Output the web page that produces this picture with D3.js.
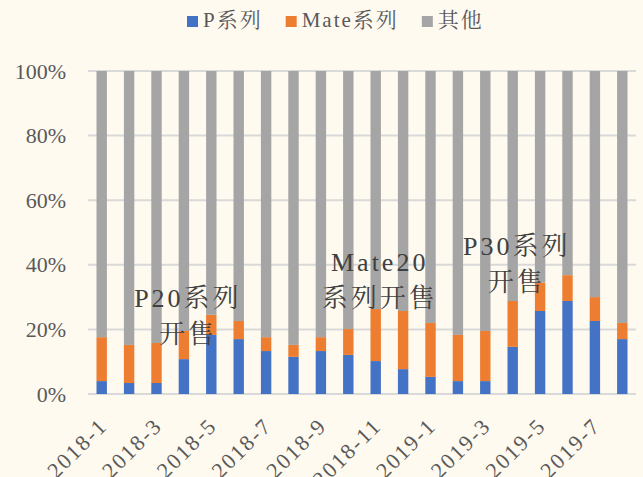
<!DOCTYPE html>
<html>
<head>
<meta charset="utf-8">
<script src="https://cdn.jsdelivr.net/npm/d3@7"></script>
<style>
	body { margin: 0; background: #fffaf0; }
	svg { display: block; }
</style>
</head>
<body>
<div id="chart"></div>
<script>
// data (share of sales, %)
const months = [
	"2018-1", "2018-2", "2018-3", "2018-4", "2018-5", "2018-6", "2018-7",
	"2018-8", "2018-9", "2018-10", "2018-11", "2018-12", "2019-1", "2019-2",
	"2019-3", "2019-4", "2019-5", "2019-6", "2019-7", "2019-8"
];
const pSeries = [4.0, 3.4, 3.4, 10.8, 18.3, 17.0, 13.3, 11.5, 13.3, 12.1,
	10.2, 7.7, 5.3, 4.0, 4.0, 14.6, 25.7, 28.8, 22.6, 17.0];
const mateSeries = [13.6, 11.8, 12.4, 8.7, 6.2, 5.6, 4.3, 3.7, 4.3, 8.0,
	16.1, 18.0, 16.7, 14.3, 15.5, 14.2, 8.8, 8.0, 7.4, 5.0];
const otherSeries = months.map((m, i) => 100 - pSeries[i] - mateSeries[i]);

const seriesNames = ["P系列", "Mate系列", "其他"];
const seriesKeys = ["p", "mate", "other"];
const colors = ["#4472c4", "#ed7d31", "#a5a5a5"];
const yTicks = [0, 20, 40, 60, 80, 100];

const notes = [
	{ month: "2018-4", value: 27, lines: ["P20系列", "开售"] },
	{ month: "2018-11", value: 38, lines: ["Mate20", "系列开售"] },
	{ month: "2019-4", value: 43, lines: ["P30系列", "开售"] }
];

const fontStack = "Liberation Serif, Noto Serif CJK SC, serif";

// set up svg
const width = 643;
const height = 477;
const margin = { top: 71, right: 7, bottom: 83, left: 88 };

const svg = d3.select("#chart")
	.append("svg")
	.attr("width", width)
	.attr("height", height)
	.attr("font-family", fontStack);

svg.append("rect")
	.attr("width", width)
	.attr("height", height)
	.attr("fill", "#fffaf0");

// scales
const xScale = d3.scaleBand()
	.domain(months)
	.range([margin.left, width - margin.right])
	.paddingInner(0.62)
	.paddingOuter(0.31);

const yScale = d3.scaleLinear()
	.domain([0, 100])
	.range([height - margin.bottom, margin.top]);

const colorScale = d3.scaleOrdinal().domain(seriesKeys).range(colors);

// grid
svg.append("g")
	.selectAll("line")
	.data(yTicks)
	.join("line")
	.attr("x1", margin.left)
	.attr("x2", width - margin.right)
	.attr("y1", d => yScale(d))
	.attr("y2", d => yScale(d))
	.attr("stroke", "#d9d9d9")
	.attr("stroke-width", 2);

// stacked bars
const table = months.map((m, i) => ({
	month: m, p: pSeries[i], mate: mateSeries[i], other: otherSeries[i]
}));
const stacked = d3.stack().keys(seriesKeys)(table);

svg.append("g")
	.selectAll("g")
	.data(stacked)
	.join("g")
	.attr("fill", d => colorScale(d.key))
	.selectAll("rect")
	.data(d => d)
	.join("rect")
	.attr("x", d => xScale(d.data.month))
	.attr("width", xScale.bandwidth())
	.attr("y", d => yScale(d[1]))
	.attr("height", d => yScale(d[0]) - yScale(d[1]));

// axes
const yAxis = d3.axisLeft(yScale)
	.tickValues(yTicks)
	.tickSize(0)
	.tickPadding(22)
	.tickFormat(d => d + "%");

svg.append("g")
	.attr("transform", `translate(${margin.left},0)`)
	.call(yAxis)
	.call(g => g.select(".domain").remove())
	.attr("font-family", fontStack)
	.selectAll("text")
	.attr("font-family", fontStack)
	.attr("font-size", 22)
	.attr("fill", "#595959");

const xAxis = d3.axisBottom(xScale)
	.tickValues(months.filter((m, i) => i % 2 === 0))
	.tickSize(0);

svg.append("g")
	.attr("transform", `translate(0,${height - margin.bottom})`)
	.call(xAxis)
	.call(g => g.select(".domain").remove())
	.attr("font-family", fontStack)
	.selectAll("text")
	.attr("font-family", fontStack)
	.attr("font-size", 22)
	.attr("letter-spacing", 2)
	.attr("fill", "#595959")
	.attr("text-anchor", "end")
	.attr("dy", null)
	.attr("y", 0)
	.attr("transform", "translate(7,33) rotate(-45)");

// annotations
const noteG = svg.append("g")
	.selectAll("text")
	.data(notes)
	.join("text")
	.attr("font-family", fontStack)
	.attr("text-anchor", "middle")
	.attr("font-size", 26)
	.attr("letter-spacing", 3)
	.attr("fill", "#404040")
	.attr("x", d => xScale(d.month) + xScale.bandwidth() / 2 + 4)
	.attr("y", d => yScale(d.value));

noteG.selectAll("tspan")
	.data(d => d.lines.map((t, i) => ({ t, i, x: xScale(d.month) + xScale.bandwidth() / 2 + 4 })))
	.join("tspan")
	.attr("x", d => d.x)
	.attr("dy", d => (d.i === 0 ? 0 : 36))
	.text(d => d.t);

// legend
const legend = svg.append("g").attr("transform", "translate(0,27)");
let lx = 187;
seriesNames.forEach((name, i) => {
	legend.append("rect")
		.attr("x", lx)
		.attr("y", -11)
		.attr("width", 11)
		.attr("height", 11)
		.attr("fill", colors[i]);
	const t = legend.append("text")
		.attr("font-family", fontStack)
		.attr("x", lx + 16)
		.attr("y", 0)
		.attr("font-size", 21)
		.attr("letter-spacing", 2)
		.attr("fill", "#595959")
		.text(name);
	lx += 16 + t.node().getComputedTextLength() + 23;
});
</script>
</body>
</html>
